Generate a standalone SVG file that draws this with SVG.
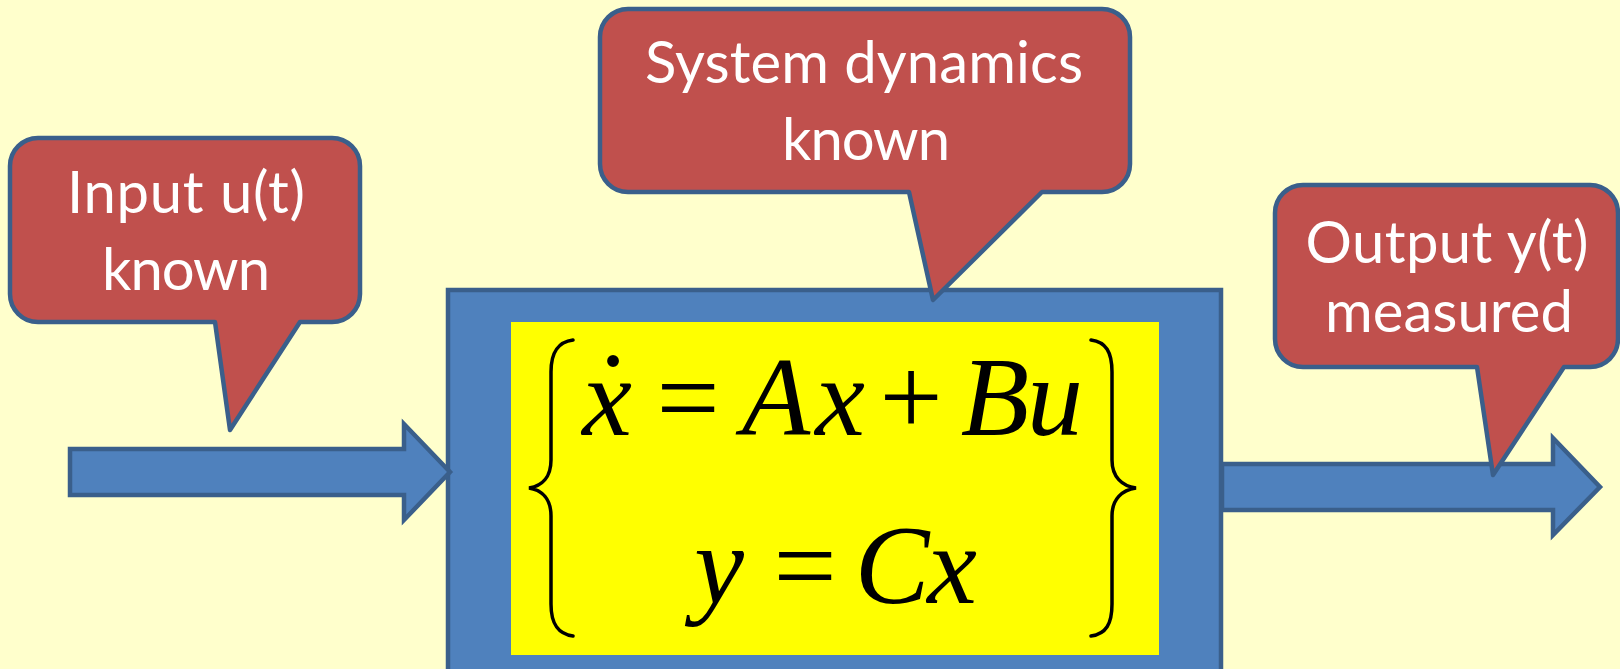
<svg xmlns="http://www.w3.org/2000/svg" width="1620" height="669" viewBox="0 0 1620 669">
<style>
.callout{fill:#C0504D;stroke:#3A5F8B;stroke-width:4.5;stroke-linejoin:round}
.ctext{fill:#FFFFFF;font-family:Lato,"Open Sans","Liberation Sans",sans-serif;font-size:58px;text-anchor:middle}
.block{fill:#4F81BD;stroke:#3A5F8B;stroke-width:4.5;stroke-linejoin:miter}
.eq{fill:#000000;font-family:"Liberation Serif","Times New Roman",serif;font-size:112px;text-anchor:middle}
.it{font-style:italic}
.brace{fill:none;stroke:#000000;stroke-width:3.5;stroke-linecap:round}
</style>
<rect x="0" y="0" width="1620" height="669" fill="#FFFFCC"/>

<g id="system">
<rect class="block" x="448" y="290" width="773" height="420"/>
<rect x="511" y="322" width="648" height="333" fill="#FFFF00"/>
<path class="brace" d="M573,340 C558,342 551,352 551,372 V460 C551,477 542,486 529,488 C542,490 551,499 551,516 V604 C551,624 558,634 573,636"/>
<path class="brace" d="M1091,340 C1106,342 1112,352 1112,372 V460 C1112,477 1122,486 1136,488 C1122,490 1112,499 1112,516 V604 C1112,624 1106,634 1091,636"/>
<text class="eq" y="435"><tspan class="it" x="607">x</tspan><tspan x="688">=</tspan><tspan class="it" x="776">A</tspan><tspan class="it" x="840">x</tspan><tspan x="911">+</tspan><tspan class="it" x="995">B</tspan><tspan class="it" x="1055">u</tspan></text>
<text class="eq" x="613" y="430">˙</text>
<text class="eq" y="603"><tspan class="it" x="719">y</tspan><tspan x="805">=</tspan><tspan class="it" x="892">C</tspan><tspan class="it" x="952">x</tspan></text>
</g>

<g id="connectors">
<path id="input-arrow" class="block" d="M70,449 H404 V424 L450,472 L404,520 V495 H70 Z"/>
<path id="output-arrow" class="block" d="M1222,464 H1553 V438 L1600,487 L1553,535 V510 H1222 Z"/>
</g>

<g id="input-callout">
<path class="callout" d="M38,138 H332 A28,28 0 0 1 360,166 V294 A28,28 0 0 1 332,322 H300 L230,430 L215,322 H38 A28,28 0 0 1 10,294 V166 A28,28 0 0 1 38,138 Z"/>
<text class="ctext" x="186" y="213" textLength="238">Input u(t)</text>
<text class="ctext" x="186" y="290" textLength="168">known</text>
</g>

<g id="system-callout">
<path class="callout" d="M628,9 H1102 A28,28 0 0 1 1130,37 V164 A28,28 0 0 1 1102,192 H1042 L933,300 L909,192 H628 A28,28 0 0 1 600,164 V37 A28,28 0 0 1 628,9 Z"/>
<text class="ctext" x="864" y="83" textLength="438">System dynamics</text>
<text class="ctext" x="866" y="160" textLength="168">known</text>
</g>

<g id="output-callout">
<path class="callout" d="M1303,185 H1590 A28,28 0 0 1 1618,213 V339 A28,28 0 0 1 1590,367 H1564 L1493,475 L1477,367 H1303 A28,28 0 0 1 1275,339 V213 A28,28 0 0 1 1303,185 Z"/>
<text class="ctext" x="1447" y="263" textLength="283">Output y(t)</text>
<text class="ctext" x="1449" y="332" textLength="248">measured</text>
</g>
</svg>
